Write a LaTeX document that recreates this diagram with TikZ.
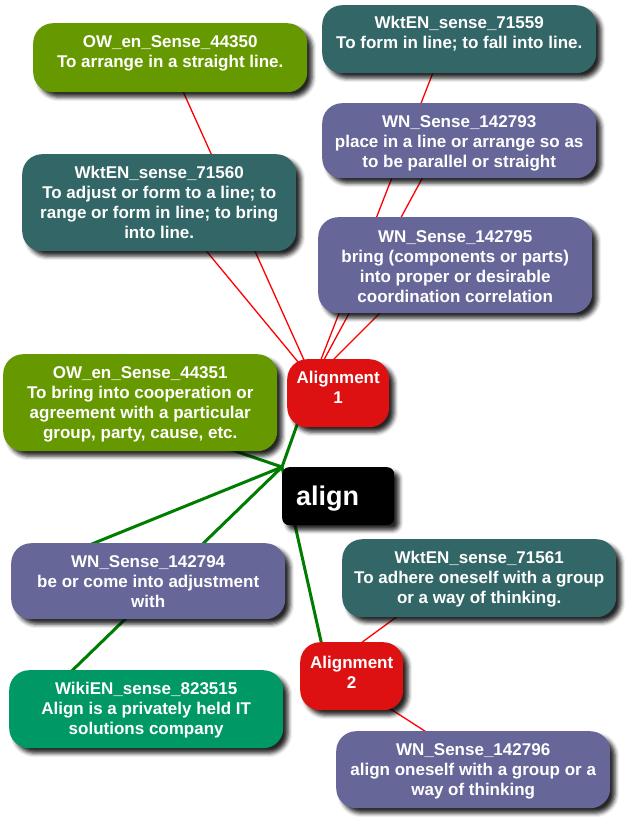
\documentclass[tikz,border=0pt]{standalone}
\usepackage{fontspec}
\setmainfont{Liberation Sans}
\usetikzlibrary{shadows.blur}
\pgfdeclarelayer{bg}
\pgfsetlayers{bg,main}
\definecolor{cOlive}{RGB}{102,153,0}
\definecolor{cTeal}{RGB}{51,102,102}
\definecolor{cPurple}{RGB}{102,102,153}
\definecolor{cGreen}{RGB}{0,153,102}
\definecolor{cRed}{RGB}{221,17,17}
\definecolor{cRedLine}{RGB}{255,0,0}
\definecolor{cGreenLine}{RGB}{0,125,0}
\begin{document}
\begin{tikzpicture}[x=1pt,y=-1pt,
  box/.style={draw=none, rectangle, rounded corners=20pt, inner sep=0pt,
    anchor=north west, minimum width=274pt,
    blur shadow={shadow xshift=5pt, shadow yshift=-5pt, shadow blur radius=4pt, shadow opacity=85}},
  txt/.style={anchor=north, inner sep=0pt, text=white, align=center,
    font=\bfseries\fontsize{17}{20}\selectfont},
  redl/.style={draw=cRedLine, line width=1.3pt},
  greenl/.style={draw=cGreenLine, line width=3pt}]
\useasboundingbox (0,0) rectangle (632,829);
% boxes
\node[box, fill=cOlive, minimum height=69pt] (n44350) at (33,23) {};
\node[box, fill=cTeal, minimum height=68pt] (n71559) at (322,5) {};
\node[box, fill=cPurple, minimum height=75pt] (n142793) at (322,103) {};
\node[box, fill=cTeal, minimum height=97pt] (n71560) at (22,154) {};
\node[box, fill=cPurple, minimum height=96pt] (n142795) at (318,217) {};
\node[box, fill=cOlive, minimum height=97pt] (n44351) at (3,354) {};
\node[box, fill=cPurple, minimum height=76pt] (n142794) at (11,543) {};
\node[box, fill=cTeal, minimum height=78pt] (n71561) at (342,539) {};
\node[box, fill=cGreen, minimum height=78pt] (n823515) at (9,670) {};
\node[box, fill=cPurple, minimum height=77pt] (n142796) at (336,731) {};
\node[box, fill=cRed, minimum width=102pt, minimum height=68pt] (a1) at (287,359) {};
\node[box, fill=cRed, minimum width=103pt, minimum height=68pt] (a2) at (300,642) {};
\node[box, fill=black, rounded corners=7pt, minimum width=112pt, minimum height=58pt] (al) at (282,467) {};
% texts
\node[txt] (t44350) at ([yshift=-11pt]n44350.north) {\rule{0pt}{13pt}OW\_en\_Sense\_44350\\To arrange in a straight line.};
\node[txt] (t71559) at ([yshift=-10pt]n71559.north) {\rule{0pt}{13pt}WktEN\_sense\_71559\\To form in line; to fall into line.};
\node[txt] (t142793) at ([yshift=-11pt]n142793.north) {\rule{0pt}{13pt}WN\_Sense\_142793\\place in a line or arrange so as\\to be parallel or straight};
\node[txt] (t71560) at ([yshift=-11pt]n71560.north) {\rule{0pt}{13pt}WktEN\_sense\_71560\\To adjust or form to a line; to\\range or form in line; to bring\\into line.};
\node[txt] (t142795) at ([yshift=-12pt]n142795.north) {\rule{0pt}{13pt}WN\_Sense\_142795\\bring (components or parts)\\into proper or desirable\\coordination correlation};
\node[txt] (t44351) at ([yshift=-11pt]n44351.north) {\rule{0pt}{13pt}OW\_en\_Sense\_44351\\To bring into cooperation or\\agreement with a particular\\group, party, cause, etc.};
\node[txt] (t142794) at ([yshift=-11pt]n142794.north) {\rule{0pt}{13pt}WN\_Sense\_142794\\be or come into adjustment\\with};
\node[txt] (t71561) at ([yshift=-11pt]n71561.north) {\rule{0pt}{13pt}WktEN\_sense\_71561\\To adhere oneself with a group\\or a way of thinking.};
\node[txt] (t823515) at ([yshift=-11pt]n823515.north) {\rule{0pt}{13pt}WikiEN\_sense\_823515\\Align is a privately held IT\\solutions company};
\node[txt] (t142796) at ([yshift=-11pt]n142796.north) {\rule{0pt}{13pt}WN\_Sense\_142796\\align oneself with a group or a\\way of thinking};
\node[txt] (ta1) at ([yshift=-11pt]a1.north) {\rule{0pt}{13pt}Alignment\\1};
\node[txt] (ta2) at ([yshift=-13pt]a2.north) {\rule{0pt}{13pt}Alignment\\2};
\node[anchor=base west, inner sep=0pt, text=white, font=\bfseries\fontsize{27}{30}\selectfont] (tal) at ([xshift=14pt,yshift=-38pt]al.north west) {align};
% hubs
\coordinate (hA1) at ([xshift=26pt,yshift=-21pt]a1.north west);
\coordinate (hA2) at ([xshift=27pt,yshift=-26pt]a2.north west);
\coordinate (hAl) at (al.north west);
\coordinate (h44350) at ([xshift=130pt,yshift=-24pt]n44350.north west);
\coordinate (h71560) at ([xshift=124pt,yshift=-24pt]n71560.north west);
\coordinate (h71559) at ([xshift=128pt,yshift=-24pt]n71559.north west);
\coordinate (h142793) at ([xshift=128pt,yshift=-24pt]n142793.north west);
\coordinate (h142795) at ([xshift=134pt,yshift=-24pt]n142795.north west);
\coordinate (h71561) at ([xshift=128pt,yshift=-24pt]n71561.north west);
\coordinate (h142796) at ([xshift=126pt,yshift=-24pt]n142796.north west);
\coordinate (h44351) at ([xshift=17pt,yshift=-24pt]n44351.north west);
\coordinate (h142794) at ([xshift=24pt,yshift=-24pt]n142794.north west);
\coordinate (h823515) at ([xshift=39pt,yshift=-24pt]n823515.north west);
% connectors
\begin{pgfonlayer}{bg}
\draw[redl] (hA1) -- (h44350);
\draw[redl] (hA1) -- (h71560);
\draw[redl] (hA1) -- (h71559);
\draw[redl] (hA1) -- (h142793);
\draw[redl] (hA1) -- (h142795);
\draw[redl] (hA2) -- (h71561);
\draw[redl] (hA2) -- (h142796);
\draw[greenl] (hAl) -- (hA1);
\draw[greenl] (hAl) -- (hA2);
\draw[greenl] (hAl) -- (h44351);
\draw[greenl] (hAl) -- (h142794);
\draw[greenl] (hAl) -- (h823515);
\end{pgfonlayer}
\end{tikzpicture}
\end{document}
